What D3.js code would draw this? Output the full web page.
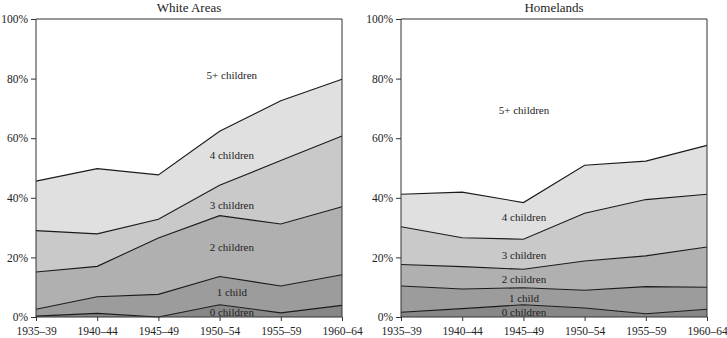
<!DOCTYPE html>
<html><head><meta charset="utf-8">
<script src="https://cdn.jsdelivr.net/npm/d3@7"></script>
<style>body{margin:0;background:#fff}svg{display:block}</style>
</head><body><svg id="c" width="727" height="338"></svg>
<script>
const periods = ["1935–39","1940–44","1945–49","1950–54","1955–59","1960–64"];
const layers = ["0 children","1 child","2 children","3 children","4 children","5+ children"];
const yTicks = [0,20,40,60,80,100];
const fills = ["#878787","#9c9c9c","#b0b0b0","#c9c9c9","#e0e0e0","#ffffff"];
// cumulative upper boundaries (%) of each layer
const whiteCum = [
  [0.3,1.2,0.0,4.1,1.4,3.9],
  [2.6,6.8,7.6,13.6,10.4,14.2],
  [15.1,17.0,26.5,34.0,31.2,37.0],
  [29.0,27.9,32.8,44.2,52.5,60.7],
  [45.6,49.8,47.7,62.3,72.6,79.8],
  [100,100,100,100,100,100]
];
const homeCum = [
  [1.6,2.8,4.1,3.0,1.1,2.6],
  [10.4,9.4,9.8,9.0,10.2,10.0],
  [17.6,16.9,16.0,18.8,20.5,23.5],
  [30.3,26.6,26.1,34.8,39.4,41.2],
  [41.2,41.9,38.4,50.9,52.3,57.6],
  [100,100,100,100,100,100]
];
// label anchors: [category index, percent]
const whiteLabels = [[3.2,1.7],[3.2,8.4],[3.2,23.5],[3.2,37.6],[3.2,54.4],[3.2,81.2]];
const homeLabels = [[2.01,1.7],[2.01,6.5],[2.01,12.8],[2.01,20.9],[2.01,33.7],[2.01,69.5]];

const FONT = "'Liberation Serif','Times New Roman','DejaVu Serif',serif";
const svg = d3.select("#c");
function panel(title, cum, labels, x0, x1) {
  const x = d3.scaleLinear().domain([0, periods.length-1]).range([x0, x1]);
  const y = d3.scaleLinear().domain([0,100]).range([317,19]);
  const g = svg.append("g");
  layers.forEach((name,i) => {
    const area = d3.area().x((d,j)=>x(j)).y0((d,j)=> i===0 ? y(0) : y(cum[i-1][j])).y1(d=>y(d));
    g.append("path").datum(cum[i]).attr("d", area).attr("fill", fills[i]).attr("stroke","none");
  });
  const line = d3.line().x((d,j)=>x(j)).y(d=>y(d));
  for (let i=0;i<layers.length-1;i++){
    g.append("path").datum(cum[i]).attr("d", line).attr("fill","none").attr("stroke","#1a1a1a").attr("stroke-width",1.1);
  }
  g.append("path").attr("d",`M${x0},${y(0)}V${y(100)}H${x1}V${y(0)}`).attr("fill","none").attr("stroke","#333").attr("stroke-width",1);
  const ya = d3.axisLeft(y).tickValues(yTicks).tickFormat(d=>d+"%").tickSize(5).tickPadding(3);
  const yg = g.append("g").attr("transform",`translate(${x0},0)`).call(ya);
  yg.select(".domain").remove();
  const xa = d3.axisBottom(x).tickValues(d3.range(periods.length)).tickFormat(i=>periods[i]).tickSize(4).tickPadding(6);
  const xg = g.append("g").attr("transform",`translate(0,${y(0)})`).call(xa);
  xg.select(".domain").attr("d",`M${x0},0H${x1}`).attr("stroke","#333");
  g.selectAll("g").attr("font-family", null);
  g.selectAll(".tick line").attr("stroke","#333");
  g.selectAll(".tick text").attr("font-size",11.5).style("font-family",FONT).attr("fill","#222");
  g.append("text").attr("x",(x0+x1)/2).attr("y",7).attr("text-anchor","middle").attr("dominant-baseline","central")
    .attr("font-size",13).style("font-family",FONT).attr("fill","#222").text(title);
  labels.forEach((l,i)=>{
    g.append("text").attr("x",x(l[0])).attr("y",y(l[1])).attr("text-anchor","middle").attr("dominant-baseline","central")
      .attr("font-size",11).style("font-family",FONT).attr("fill","#222").text(layers[i]);
  });
}
panel("White Areas", whiteCum, whiteLabels, 36, 342);
panel("Homelands", homeCum, homeLabels, 401, 707);
</script></body></html>
